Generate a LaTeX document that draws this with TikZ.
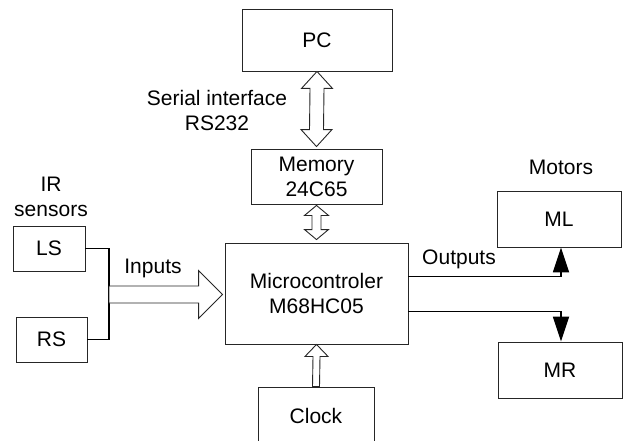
\documentclass[tikz,border=0pt]{standalone}
\usepackage{fontspec}
\setmainfont{Liberation Sans}
\usetikzlibrary{calc,arrows.meta}
\newcommand{\myDblArrow}[5]{%
 \draw[blk] (#1) -- ++(#3,#5) -- ++({-(#3-#4)},0) -- ($(#2)+(#4,-#5)$) -- ++({#3-#4},0) -- (#2) -- ++(-#3,-#5) -- ++({#3-#4},0) -- ($(#1)+(-#4,#5)$) -- ++({-(#3-#4)},0) -- cycle;}
\begin{document}
\begin{tikzpicture}[x=1pt,y=-1pt,
  box/.style={draw=black!85,line width=0.9pt,rectangle,inner sep=0pt,align=center,font=\fontsize{21}{25}\selectfont},
  lbl/.style={inner sep=0pt,align=center,font=\fontsize{21}{24.5}\selectfont},
  blk/.style={draw=black!85,line width=0.9pt,fill=white,line join=miter},
  conn/.style={draw=black,line width=1.8pt},
  tri/.style={-{Triangle[length=25pt,width=16pt]}}]
\useasboundingbox (0,0) rectangle (623,441);
\node[box,minimum width=150pt,minimum height=62pt] (pc) at (317,40) {PC};
\node[box,minimum width=131pt,minimum height=55pt] (mem) at (316.5,176.5) {Memory\\24C65};
\node[box,minimum width=183pt,minimum height=101pt] (micro) at (316.5,293.5) {Microcontroler\\M68HC05};
\node[box,minimum width=116pt,minimum height=58pt] (clock) at (316,416) {Clock};
\node[box,minimum width=72pt,minimum height=45pt] (ls) at (49,248.5) {LS};
\node[box,minimum width=71pt,minimum height=45pt] (rs) at (51.5,339.5) {RS};
\node[box,minimum width=124pt,minimum height=56pt] (ml) at (559,219) {ML};
\node[box,minimum width=124pt,minimum height=56pt] (mr) at (560,370) {MR};
\node[lbl] (serial) at (217,110.5) {Serial interface\\RS232};
\node[lbl] (ir) at (51,197) {IR\\sensors};
\node[lbl] (motors) at (561,167) {Motors};
\node[lbl] (inputs) at (153,268) {Inputs};
\node[lbl] (outputs) at (459,259) {Outputs};
% double arrows
\myDblArrow{pc.south}{$(mem.north)+(0,-2)$}{15.5}{7}{17}
\myDblArrow{$(mem.south)+(0,1)$}{$(micro.north)+(0,-3)$}{12}{4.5}{10}
% clock arrow
\draw[blk] (micro.south) -- ++(11.5,12) -- ++(-8,0) -- ($(clock.north)+(3.5,0)$) -- ($(clock.north)+(-3.5,0)$) -- ($(micro.south)+(-3.5,12)$) -- ++(-8,0) -- cycle;
% inputs
\coordinate (j) at (109,294.5);
\draw[conn] (ls.east) -| (j) |- (rs.east);
\coordinate (tipin) at ($(micro.west |- j)+(-2,0)$);
\draw[blk] (tipin) -- ++(-24,-24) -- ++(0,15.5) -- ($(j)+(0,-8.5)$) -- ($(j)+(0,8.5)$) -- ($(tipin)+(-24,8.5)$) -- ++(0,15.5) -- cycle;
% outputs
\draw[conn,tri] ([yshift=-34pt]micro.north east) -| ([xshift=2pt]ml.south);
\draw[conn,tri] ([yshift=-69pt]micro.north east) -| ([xshift=1pt]mr.north);
\end{tikzpicture}
\end{document}
